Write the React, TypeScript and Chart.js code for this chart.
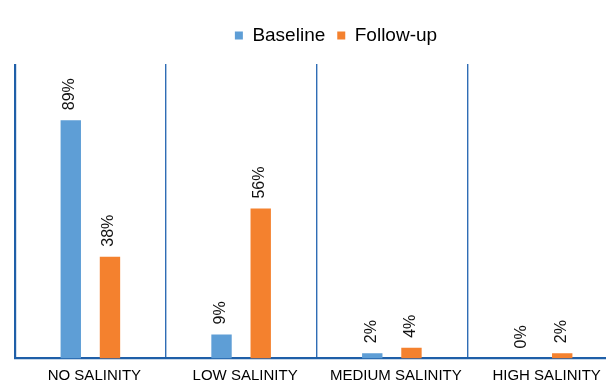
import React, { useEffect, useRef } from 'react';
import { Chart, registerables } from 'chart.js';

Chart.register(...registerables);

const categories = ['NO SALINITY', 'LOW SALINITY', 'MEDIUM SALINITY', 'HIGH SALINITY'];
const seriesNames = ['Baseline', 'Follow-up'];
const baselineValues = [89, 9, 2, 0];
const followUpValues = [38, 56, 4, 2];
const Y_MAX = 110;

const FONT = '"Liberation Sans", Arial, Helvetica, sans-serif';
const LEGEND_SHIFT = 19.5;

const valueLabels = {
  id: 'valueLabels',
  afterDatasetsDraw(chart: any) {
    const ctx = chart.ctx;
    ctx.save();
    ctx.font = `16px ${FONT}`;
    ctx.fillStyle = '#111';
    ctx.textAlign = 'left';
    ctx.textBaseline = 'middle';
    chart.data.datasets.forEach((ds: any, di: number) => {
      const meta = chart.getDatasetMeta(di);
      meta.data.forEach((el: any, i: number) => {
        ctx.save();
        ctx.translate(el.x - 1, el.y - 10);
        ctx.rotate(-Math.PI / 2);
        ctx.fillText(ds.data[i] + '%', 0, 0);
        ctx.restore();
      });
    });
    ctx.restore();
  },
};

const legendShift = {
  id: 'legendShift',
  afterLayout(chart: any) {
    const l = chart.legend;
    if (l) {
      l.left += LEGEND_SHIFT;
      l.right += LEGEND_SHIFT;
    }
  },
};

export default function App() {
  const ref = useRef<HTMLCanvasElement | null>(null);

  useEffect(() => {
    if (!ref.current) return;
    const chart = new Chart(ref.current, {
      type: 'bar',
      data: {
        labels: categories,
        datasets: [
          {
            label: seriesNames[0],
            data: baselineValues,
            backgroundColor: '#5e9ed6',
            borderWidth: 0,
            categoryPercentage: 0.52,
            barPercentage: 0.52,
          },
          {
            label: seriesNames[1],
            data: followUpValues,
            backgroundColor: '#f4812e',
            borderWidth: 0,
            categoryPercentage: 0.52,
            barPercentage: 0.52,
          },
        ],
      },
      options: {
        responsive: false,
        animation: false,
        devicePixelRatio: 1,
        layout: { padding: { left: 15, right: 0, top: 14, bottom: 0 } },
        plugins: {
          legend: {
            position: 'top',
            labels: {
              boxWidth: 8,
              boxHeight: 8,
              padding: 12,
              color: '#000',
              font: { size: 19, family: FONT },
            },
          },
          subtitle: {
            display: true,
            text: '',
            weight: 500,
            font: { size: 9, lineHeight: 1 },
            padding: 0,
          },
          tooltip: { enabled: false },
        },
        scales: {
          x: {
            grid: {
              offset: true,
              color: (c: any) => (c.index === 0 ? '#1f5fa8' : '#2f6db5'),
              lineWidth: (c: any) => (c.index === 0 ? 2.2 : 1.4),
              drawTicks: true,
              tickLength: 11,
              tickColor: 'rgba(0,0,0,0)',
            },
            border: { display: true, color: '#1f5fa8', width: 2.2 },
            ticks: {
              color: '#000',
              font: { size: 15, family: FONT, lineHeight: 0.9 },
              padding: 0,
              labelOffset: 4,
              maxRotation: 0,
              autoSkip: false,
            },
          },
          y: { display: false, min: 0, max: Y_MAX },
        },
      } as any,
      plugins: [valueLabels, legendShift],
    });
    return () => chart.destroy();
  }, []);

  return (
    <div style={{ position: 'absolute', left: 0, top: 0, width: 606, height: 383, overflow: 'hidden', background: '#fff' }}>
      <canvas ref={ref} width={618} height={383} style={{ display: 'block' }} />
    </div>
  );
}
